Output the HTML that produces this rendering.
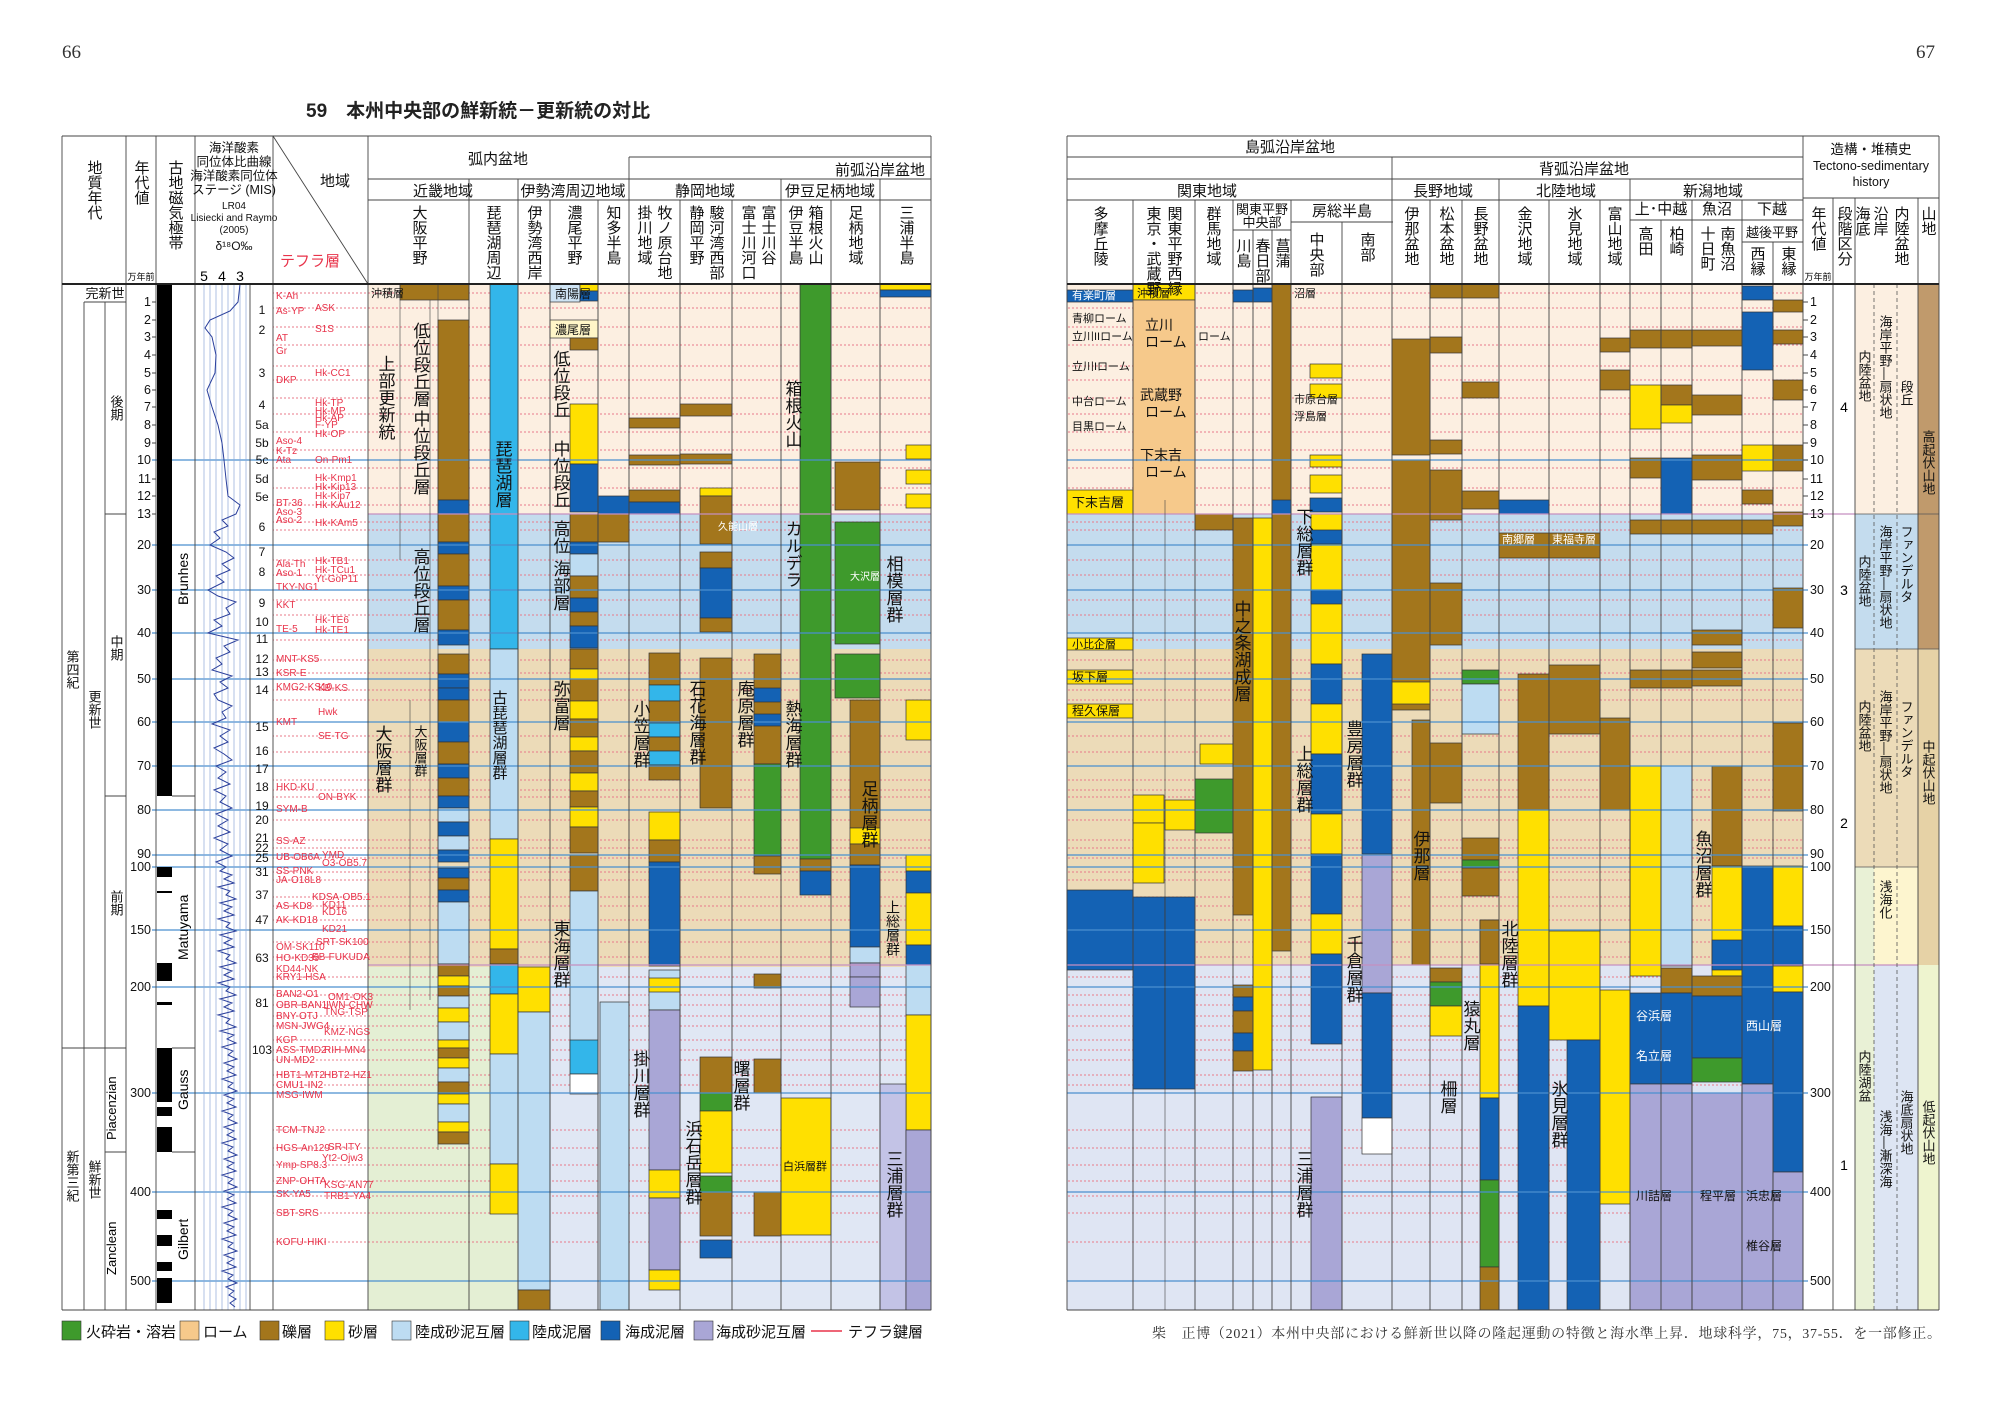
<!DOCTYPE html>
<html><head><meta charset="utf-8">
<style>
html,body{margin:0;padding:0;background:#fff;}
svg{display:block;font-family:"Liberation Sans","Noto Sans CJK JP",sans-serif;}
.v{writing-mode:vertical-rl;}
.G{fill:#a3761c}.S{fill:#ffe000}.B{fill:#1462b4}.C{fill:#33b6ea}.L{fill:#bddcf2}.P{fill:#a9a6d6}.V{fill:#3e9a2c}.R{fill:#f6c98b}
.blk rect{stroke:#333;stroke-width:.7}
.h{font-size:15px;fill:#111}
.t{font-size:10px;fill:#e8334a}
.m{font-size:13px;fill:#111}
.yl{font-size:12.5px;fill:#111}
.big{font-size:17px;fill:#111}
</style></head><body>
<svg width="2000" height="1417" viewBox="0 0 2000 1417" xmlns="http://www.w3.org/2000/svg">
<defs>
<clipPath id="dc"><rect x="273" y="284" width="658" height="1026"/><rect x="1067" y="284" width="736" height="1026"/></clipPath>
</defs>
<text x="62" y="58" font-family="Liberation Serif" font-size="19" fill="#333">66</text>
<text x="1916" y="58" font-family="Liberation Serif" font-size="19" fill="#333">67</text>
<text x="306" y="117" font-size="19" font-weight="bold" fill="#222">59　本州中央部の鮮新統－更新統の対比</text>

<rect x="368" y="284" width="563" height="230" fill="#fcefe1"/>
<rect x="368" y="514" width="563" height="135" fill="#c4dcee"/>
<rect x="368" y="649" width="563" height="318" fill="#ecdbb8"/>
<rect x="368" y="967" width="563" height="343" fill="#e0e7f4"/>
<rect x="368" y="967" width="182" height="343" fill="#e4efd4"/>
<rect x="1067" y="284" width="736" height="230" fill="#fcefe1"/>
<rect x="1067" y="514" width="736" height="135" fill="#c4dcee"/>
<rect x="1067" y="649" width="736" height="316" fill="#ecdbb8"/>
<rect x="1067" y="965" width="736" height="345" fill="#dfe5f3"/>
<rect x="1855" y="284" width="63" height="230" fill="#fcefe1"/>
<rect x="1855" y="514" width="63" height="135" fill="#c4dcee"/>
<rect x="1855" y="649" width="63" height="218" fill="#ecdbb8"/>
<rect x="1855" y="867" width="19" height="98" fill="#e9f1d6"/>
<rect x="1874" y="867" width="44" height="98" fill="#fdf5cf"/>
<rect x="1855" y="965" width="19" height="345" fill="#e9f1d6"/>
<rect x="1874" y="965" width="44" height="345" fill="#dde5f3"/>
<rect x="1918" y="284" width="21" height="365" fill="#c09a6c"/>
<rect x="1918" y="649" width="21" height="316" fill="#e6d2a6"/>
<rect x="1918" y="965" width="21" height="345" fill="#eef4cf"/>

<g clip-path="url(#dc)" stroke="#e87a8a" stroke-width="1" stroke-dasharray="2 2">
<path d="M0 293H2000M0 308H2000M0 327H2000M0 345H2000M0 366H2000M0 380H2000M0 398H2000M0 414H2000M0 432H2000M0 450H2000M0 468H2000M0 488H2000M0 505H2000M0 522H2000M0 530H2000M0 560H2000M0 575H2000M0 600H2000M0 615H2000M0 640H2000M0 660H2000M0 673H2000M0 690H2000M0 700H2000M0 736H2000M0 752H2000M0 780H2000M0 790H2000M0 797H2000M0 820H2000M0 840H2000M0 848H2000M0 858H2000M0 872H2000M0 880H2000M0 897H2000M0 906H2000M0 920H2000M0 942H2000M0 957H2000M0 977H2000M0 995H2000M0 1005H2000M0 1016H2000M0 1026H2000M0 1040H2000M0 1050H2000M0 1060H2000M0 1075H2000M0 1085H2000M0 1130H2000M0 1148H2000M0 1165H2000M0 1181H2000M0 1196H2000M0 1213H2000M0 1242H2000"/>
</g>

<g class="blk">
<rect class="G" x="400" y="284" width="69" height="16"/>
<rect class="G" x="438" y="320" width="31" height="180"/>
<rect class="B" x="438" y="500" width="31" height="14"/>
<rect class="G" x="438" y="514" width="31" height="28"/>
<rect class="B" x="438" y="542" width="31" height="12"/>
<rect class="G" x="438" y="554" width="31" height="32"/>
<rect class="B" x="438" y="586" width="31" height="14"/>
<rect class="G" x="438" y="600" width="31" height="30"/>
<rect class="B" x="438" y="630" width="31" height="15"/>
<rect class="G" x="438" y="654" width="31" height="20"/>
<rect class="B" x="438" y="674" width="31" height="14"/>
<rect class="B" x="438" y="688" width="31" height="12"/>
<rect class="G" x="438" y="700" width="31" height="22"/>
<rect class="B" x="438" y="722" width="31" height="20"/>
<rect class="G" x="438" y="742" width="31" height="22"/>
<rect class="B" x="438" y="764" width="31" height="14"/>
<rect class="G" x="438" y="778" width="31" height="18"/>
<rect class="B" x="438" y="796" width="31" height="12"/>
<rect class="L" x="438" y="808" width="31" height="14"/>
<rect class="B" x="438" y="822" width="31" height="14"/>
<rect class="L" x="438" y="836" width="31" height="14"/>
<rect class="B" x="438" y="850" width="31" height="12"/>
<rect class="B" x="438" y="868" width="31" height="10"/>
<rect class="G" x="438" y="878" width="31" height="12"/>
<rect class="B" x="438" y="890" width="31" height="12"/>
<rect class="L" x="438" y="902" width="31" height="62"/>
<rect class="G" x="438" y="964" width="31" height="12"/>
<rect class="S" x="438" y="976" width="31" height="10"/>
<rect class="G" x="438" y="986" width="31" height="10"/>
<rect class="L" x="438" y="996" width="31" height="12"/>
<rect class="S" x="438" y="1008" width="31" height="14"/>
<rect class="L" x="438" y="1022" width="31" height="18"/>
<rect class="S" x="438" y="1040" width="31" height="8"/>
<rect class="G" x="438" y="1048" width="31" height="10"/>
<rect class="S" x="438" y="1058" width="31" height="10"/>
<rect class="L" x="438" y="1068" width="31" height="14"/>
<rect class="G" x="438" y="1082" width="31" height="12"/>
<rect class="S" x="438" y="1094" width="31" height="10"/>
<rect class="L" x="438" y="1104" width="31" height="18"/>
<rect class="S" x="438" y="1122" width="31" height="10"/>
<rect class="G" x="438" y="1132" width="31" height="12"/>
<rect class="C" x="490" y="284" width="28" height="365"/>
<rect class="L" x="490" y="649" width="28" height="190"/>
<rect class="S" x="490" y="839" width="28" height="110"/>
<rect class="G" x="490" y="949" width="28" height="15"/>
<rect class="C" x="490" y="964" width="28" height="30"/>
<rect class="S" x="490" y="994" width="28" height="60"/>
<rect class="L" x="490" y="1054" width="28" height="110"/>
<rect class="S" x="490" y="1164" width="28" height="50"/>
<rect class="S" x="518" y="967" width="32" height="45"/>
<rect class="L" x="518" y="1012" width="32" height="278"/>
<rect class="G" x="518" y="1290" width="32" height="20"/>
<rect fill="#cfe4f4" x="550" y="284" width="30" height="18"/>
<rect class="S" x="580" y="284" width="18" height="7"/>
<rect class="B" x="580" y="291" width="18" height="10"/>
<rect fill="#fff6c8" x="550" y="320" width="48" height="18"/>
<rect class="G" x="570" y="338" width="28" height="12"/>
<rect class="S" x="570" y="404" width="28" height="60"/>
<rect class="B" x="570" y="464" width="28" height="48"/>
<rect class="G" x="570" y="514" width="28" height="28"/>
<rect class="B" x="570" y="542" width="28" height="12"/>
<rect class="L" x="570" y="554" width="28" height="22"/>
<rect class="G" x="570" y="576" width="28" height="22"/>
<rect class="B" x="570" y="598" width="28" height="14"/>
<rect class="G" x="570" y="612" width="28" height="14"/>
<rect class="B" x="570" y="626" width="28" height="22"/>
<rect class="G" x="570" y="649" width="28" height="20"/>
<rect class="S" x="570" y="669" width="28" height="10"/>
<rect class="G" x="570" y="679" width="28" height="22"/>
<rect class="S" x="570" y="701" width="28" height="18"/>
<rect class="G" x="570" y="719" width="28" height="18"/>
<rect class="S" x="570" y="737" width="28" height="14"/>
<rect class="G" x="570" y="751" width="28" height="22"/>
<rect class="S" x="570" y="773" width="28" height="18"/>
<rect class="G" x="570" y="791" width="28" height="16"/>
<rect class="S" x="570" y="807" width="28" height="20"/>
<rect class="G" x="570" y="827" width="28" height="26"/>
<rect class="G" x="570" y="855" width="28" height="36"/>
<rect class="L" x="570" y="891" width="28" height="160"/>
<rect class="C" x="570" y="1040" width="28" height="34"/>
<rect fill="#fff" x="570" y="1074" width="28" height="20"/>
<rect class="B" x="598" y="496" width="31" height="18"/>
<rect class="G" x="598" y="514" width="31" height="28"/>
<rect class="L" x="600" y="1002" width="29" height="308"/>
<rect class="G" x="629" y="418" width="51" height="10"/>
<rect class="G" x="629" y="455" width="51" height="10"/>
<rect class="G" x="629" y="490" width="51" height="12"/>
<rect class="B" x="629" y="502" width="51" height="12"/>
<rect class="G" x="649" y="653" width="31" height="32"/>
<rect class="C" x="649" y="685" width="31" height="16"/>
<rect class="G" x="649" y="701" width="31" height="22"/>
<rect class="C" x="649" y="723" width="31" height="14"/>
<rect class="G" x="649" y="737" width="31" height="14"/>
<rect class="C" x="649" y="751" width="31" height="14"/>
<rect class="G" x="649" y="765" width="31" height="15"/>
<rect class="S" x="649" y="812" width="31" height="28"/>
<rect class="G" x="649" y="840" width="31" height="22"/>
<rect class="B" x="649" y="862" width="31" height="104"/>
<rect class="L" x="649" y="970" width="31" height="40"/>
<rect class="S" x="649" y="978" width="31" height="14"/>
<rect class="P" x="649" y="1010" width="31" height="160"/>
<rect class="S" x="649" y="1170" width="31" height="28"/>
<rect class="P" x="649" y="1198" width="31" height="72"/>
<rect class="S" x="649" y="1270" width="31" height="20"/>
<rect class="G" x="680" y="404" width="52" height="12"/>
<rect class="G" x="680" y="454" width="52" height="10"/>
<rect class="S" x="700" y="488" width="32" height="8"/>
<rect class="G" x="700" y="496" width="32" height="18"/>
<rect class="G" x="700" y="514" width="32" height="30"/>
<rect class="G" x="700" y="552" width="32" height="16"/>
<rect class="B" x="700" y="568" width="32" height="50"/>
<rect class="G" x="700" y="618" width="32" height="14"/>
<rect class="G" x="700" y="658" width="32" height="150"/>
<rect class="G" x="700" y="1057" width="32" height="36"/>
<rect class="V" x="700" y="1093" width="32" height="18"/>
<rect class="S" x="700" y="1111" width="32" height="62"/>
<rect class="V" x="700" y="1176" width="32" height="16"/>
<rect class="G" x="700" y="1192" width="32" height="44"/>
<rect class="B" x="700" y="1240" width="32" height="18"/>
<rect class="G" x="754" y="654" width="27" height="110"/>
<rect class="B" x="754" y="688" width="27" height="14"/>
<rect class="B" x="754" y="714" width="27" height="12"/>
<rect class="V" x="754" y="764" width="27" height="92"/>
<rect class="G" x="754" y="856" width="27" height="18"/>
<rect class="G" x="754" y="1059" width="27" height="34"/>
<rect class="G" x="754" y="1192" width="27" height="44"/>
<rect class="S" x="781" y="1098" width="50" height="137"/>
<rect class="G" x="754" y="974" width="27" height="14"/>
<rect class="V" x="800" y="284" width="31" height="575"/>
<rect class="G" x="800" y="859" width="31" height="12"/>
<rect class="B" x="800" y="871" width="31" height="24"/>
<rect class="G" x="835" y="462" width="45" height="48"/>
<rect class="V" x="835" y="522" width="45" height="122"/>
<rect class="V" x="835" y="654" width="45" height="44"/>
<rect class="G" x="850" y="700" width="30" height="128"/>
<rect class="S" x="850" y="828" width="30" height="16"/>
<rect class="G" x="850" y="844" width="30" height="21"/>
<rect class="B" x="850" y="865" width="30" height="82"/>
<rect class="L" x="850" y="947" width="30" height="16"/>
<rect class="P" x="850" y="963" width="30" height="14"/>
<rect class="P" x="850" y="977" width="30" height="30"/>
<rect class="S" x="880" y="284" width="51" height="6"/>
<rect class="B" x="880" y="290" width="51" height="7"/>
<rect class="S" x="906" y="445" width="25" height="14"/>
<rect class="S" x="906" y="470" width="25" height="14"/>
<rect class="S" x="906" y="494" width="25" height="14"/>
<rect class="S" x="906" y="700" width="25" height="40"/>
<rect class="S" x="906" y="855" width="25" height="16"/>
<rect class="B" x="906" y="871" width="25" height="22"/>
<rect class="S" x="906" y="893" width="25" height="52"/>
<rect class="B" x="906" y="945" width="25" height="20"/>
<rect class="L" x="906" y="965" width="25" height="50"/>
<rect class="S" x="906" y="1015" width="25" height="115"/>
<rect fill="#c3c3e6" x="880" y="1084" width="26" height="226"/>
<rect class="P" x="906" y="1130" width="25" height="180"/>
</g>

<g class="blk">
<rect class="B" x="1067" y="290" width="66" height="12"/>
<rect class="S" x="1067" y="490" width="66" height="24"/>
<rect class="S" x="1067" y="638" width="66" height="12"/>
<rect class="S" x="1067" y="670" width="66" height="14"/>
<rect class="S" x="1067" y="704" width="66" height="14"/>
<rect class="B" x="1067" y="890" width="66" height="80"/>
<rect class="S" x="1133" y="284" width="62" height="16"/>
<rect class="R" x="1133" y="300" width="62" height="214"/>
<rect class="S" x="1133" y="795" width="31" height="28"/>
<rect class="S" x="1133" y="823" width="31" height="60"/>
<rect class="B" x="1133" y="897" width="32" height="192"/>
<rect class="S" x="1165" y="800" width="30" height="30"/>
<rect class="B" x="1165" y="897" width="30" height="192"/>
<rect class="S" x="1200" y="744" width="33" height="20"/>
<rect class="V" x="1195" y="779" width="38" height="54"/>
<rect class="G" x="1195" y="514" width="38" height="16"/>
<rect class="G" x="1233" y="518" width="20" height="397"/>
<rect class="G" x="1233" y="985" width="20" height="12"/>
<rect class="B" x="1233" y="997" width="20" height="14"/>
<rect class="G" x="1233" y="1011" width="20" height="22"/>
<rect class="B" x="1233" y="1033" width="20" height="18"/>
<rect class="G" x="1233" y="1051" width="20" height="20"/>
<rect class="S" x="1253" y="518" width="19" height="552"/>
<rect class="G" x="1272" y="284" width="19" height="667"/>
<rect class="B" x="1233" y="290" width="20" height="12"/>
<rect class="B" x="1253" y="288" width="19" height="14"/>
<rect class="B" x="1272" y="500" width="19" height="14"/>
<rect class="S" x="1310" y="364" width="32" height="14"/>
<rect class="S" x="1310" y="384" width="32" height="14"/>
<rect class="S" x="1310" y="455" width="32" height="12"/>
<rect class="S" x="1310" y="475" width="32" height="18"/>
<rect class="B" x="1310" y="498" width="32" height="14"/>
<rect class="S" x="1311" y="514" width="31" height="150"/>
<rect class="B" x="1311" y="530" width="31" height="14"/>
<rect class="B" x="1311" y="590" width="31" height="14"/>
<rect class="B" x="1311" y="664" width="31" height="40"/>
<rect class="S" x="1311" y="704" width="31" height="50"/>
<rect class="B" x="1311" y="754" width="31" height="60"/>
<rect class="S" x="1311" y="814" width="31" height="40"/>
<rect class="B" x="1311" y="854" width="31" height="60"/>
<rect class="S" x="1311" y="914" width="31" height="40"/>
<rect class="B" x="1311" y="954" width="31" height="90"/>
<rect class="P" x="1311" y="1097" width="31" height="213"/>
<rect class="B" x="1362" y="654" width="30" height="200"/>
<rect class="P" x="1362" y="855" width="30" height="138"/>
<rect class="B" x="1362" y="993" width="30" height="125"/>
<rect fill="#fff" x="1362" y="1118" width="30" height="36"/>
<rect class="G" x="1392" y="339" width="38" height="116"/>
<rect class="G" x="1392" y="460" width="38" height="250"/>
<rect class="S" x="1392" y="682" width="38" height="22"/>
<rect class="G" x="1412" y="720" width="18" height="245"/>
<rect class="G" x="1430" y="284" width="69" height="14"/>
<rect class="G" x="1430" y="337" width="32" height="16"/>
<rect class="G" x="1430" y="440" width="32" height="14"/>
<rect class="G" x="1430" y="470" width="32" height="50"/>
<rect class="G" x="1430" y="583" width="32" height="62"/>
<rect class="G" x="1430" y="743" width="32" height="60"/>
<rect class="G" x="1430" y="968" width="32" height="14"/>
<rect class="V" x="1430" y="982" width="32" height="24"/>
<rect class="S" x="1430" y="1006" width="32" height="30"/>
<rect class="G" x="1462" y="382" width="37" height="16"/>
<rect class="G" x="1462" y="491" width="37" height="18"/>
<rect class="V" x="1462" y="670" width="37" height="14"/>
<rect class="L" x="1462" y="684" width="37" height="50"/>
<rect class="G" x="1462" y="838" width="37" height="22"/>
<rect class="V" x="1462" y="860" width="37" height="8"/>
<rect class="G" x="1462" y="868" width="37" height="28"/>
<rect class="S" x="1480" y="920" width="19" height="178"/>
<rect class="G" x="1480" y="920" width="19" height="44"/>
<rect class="B" x="1480" y="1098" width="19" height="82"/>
<rect class="V" x="1480" y="1180" width="19" height="87"/>
<rect class="G" x="1480" y="1267" width="19" height="43"/>
<rect class="B" x="1499" y="500" width="50" height="14"/>
<rect class="G" x="1499" y="533" width="50" height="25"/>
<rect class="G" x="1518" y="674" width="31" height="136"/>
<rect class="S" x="1518" y="810" width="31" height="196"/>
<rect class="B" x="1518" y="1006" width="31" height="304"/>
<rect class="G" x="1549" y="533" width="51" height="25"/>
<rect class="G" x="1549" y="665" width="51" height="69"/>
<rect class="S" x="1549" y="931" width="51" height="109"/>
<rect class="B" x="1567" y="1040" width="33" height="270"/>
<rect class="G" x="1600" y="338" width="30" height="14"/>
<rect class="G" x="1600" y="370" width="30" height="20"/>
<rect class="G" x="1600" y="718" width="30" height="92"/>
<rect class="S" x="1600" y="990" width="30" height="214"/>
<rect class="G" x="1630" y="330" width="31" height="18"/>
<rect class="G" x="1661" y="330" width="31" height="18"/>
<rect class="S" x="1630" y="385" width="31" height="44"/>
<rect class="G" x="1661" y="385" width="31" height="20"/>
<rect class="S" x="1661" y="405" width="31" height="18"/>
<rect class="G" x="1630" y="458" width="31" height="20"/>
<rect class="B" x="1661" y="458" width="31" height="56"/>
<rect class="G" x="1630" y="520" width="62" height="14"/>
<rect class="G" x="1630" y="670" width="62" height="18"/>
<rect class="S" x="1630" y="766" width="31" height="210"/>
<rect class="L" x="1661" y="766" width="31" height="200"/>
<rect class="G" x="1661" y="968" width="31" height="25"/>
<rect class="B" x="1630" y="993" width="62" height="91"/>
<rect class="P" x="1630" y="1084" width="62" height="226"/>
<rect class="G" x="1692" y="330" width="50" height="16"/>
<rect class="G" x="1692" y="395" width="50" height="20"/>
<rect class="G" x="1692" y="455" width="50" height="25"/>
<rect class="G" x="1692" y="520" width="50" height="14"/>
<rect class="G" x="1692" y="630" width="50" height="15"/>
<rect class="G" x="1692" y="652" width="50" height="16"/>
<rect class="G" x="1692" y="670" width="50" height="16"/>
<rect class="G" x="1712" y="766" width="30" height="100"/>
<rect class="S" x="1712" y="866" width="30" height="110"/>
<rect class="B" x="1712" y="940" width="30" height="30"/>
<rect class="G" x="1692" y="976" width="50" height="20"/>
<rect class="B" x="1692" y="996" width="50" height="62"/>
<rect class="V" x="1692" y="1058" width="50" height="24"/>
<rect class="P" x="1692" y="1093" width="50" height="217"/>
<rect class="B" x="1742" y="286" width="31" height="14"/>
<rect class="B" x="1742" y="312" width="31" height="58"/>
<rect class="G" x="1773" y="300" width="30" height="12"/>
<rect class="G" x="1773" y="330" width="30" height="14"/>
<rect class="G" x="1773" y="380" width="30" height="20"/>
<rect class="S" x="1742" y="445" width="31" height="26"/>
<rect class="G" x="1773" y="445" width="30" height="26"/>
<rect class="G" x="1742" y="490" width="31" height="14"/>
<rect class="G" x="1773" y="512" width="30" height="14"/>
<rect class="G" x="1742" y="520" width="31" height="14"/>
<rect class="G" x="1773" y="588" width="30" height="40"/>
<rect class="G" x="1773" y="723" width="30" height="88"/>
<rect class="B" x="1742" y="866" width="31" height="218"/>
<rect class="S" x="1773" y="866" width="30" height="60"/>
<rect class="B" x="1773" y="926" width="30" height="40"/>
<rect class="S" x="1773" y="966" width="30" height="26"/>
<rect class="B" x="1773" y="992" width="30" height="180"/>
<rect class="P" x="1742" y="1084" width="31" height="226"/>
<rect class="P" x="1773" y="1172" width="30" height="138"/>
</g>

<g stroke="#4a8fcf" stroke-width="1.3">
<path d="M152 460H931M152 545H931M152 590H931M152 633H931M152 679H931M152 722H931M152 766H931M152 810H931M152 855H931M152 867H931M152 930H931M152 987H931M152 1093H931M152 1192H931M152 1281H931"/>
<path d="M1067 460H1808M1067 545H1808M1067 590H1808M1067 633H1808M1067 679H1808M1067 722H1808M1067 766H1808M1067 810H1808M1067 855H1808M1067 867H1808M1067 930H1808M1067 987H1808M1067 1093H1808M1067 1192H1808M1067 1281H1808"/>
</g>
<path d="M368 514H931M1067 514H1855M368 965H931M1067 965H1918" stroke="#c58fc0" stroke-width="1.2"/>
<path d="M1855 514H1939M1855 649H1939M1855 867H1918" stroke="#555" stroke-width="0.8"/>

<rect x="157" y="284" width="15" height="512" fill="#000"/>
<g fill="#000">
<rect x="157" y="867" width="15" height="10"/><rect x="157" y="891" width="15" height="2"/>
<rect x="157" y="963" width="15" height="18"/><rect x="157" y="1002" width="15" height="3"/>
<rect x="157" y="1048" width="15" height="54"/><rect x="157" y="1107" width="15" height="9"/>
<rect x="157" y="1127" width="15" height="25"/><rect x="157" y="1210" width="15" height="9"/>
<rect x="157" y="1235" width="15" height="11"/><rect x="157" y="1262" width="15" height="9"/>
<rect x="157" y="1278" width="15" height="25"/>
</g>
<g stroke="#8ea8d8" stroke-width="0.7">
<path d="M204 284V1310M210 284V1310M216 284V1310M222 284V1310M228 284V1310M234 284V1310M240 284V1310M246 284V1310"/>
</g>
<polyline fill="none" stroke="#2a3f9c" stroke-width="1" points="240,284 238,302 230,311 210,320 205,328 212,337 216,355 215,373 207,390 212,407 218,425 222,443 224,460 226,479 228,496 240,505 236,514 222,520 228,526 214,532 220,538 210,545 226,552 234,558 222,564 230,570 216,576 224,582 208,590 218,596 236,602 226,608 230,614 214,620 222,626 208,633 238,640 224,646 230,652 216,658 222,664 212,670 232,676 220,682 228,688 214,694 218,700 232,706 222,712 226,718 212,724 230,730 220,736 228,742 214,748 224,754 232,760 216,766 226,772 218,778 230,784 214,790 226,796 220,802 232,808 216,814 228,820 218,826 230,832 214,838 228,844 220,850 232,856 216,862 226,867 220,871 232,875 224,879 234,883 218,887 230,891 226,895 236,899 220,903 232,907 224,911 234,915 218,919 230,923 226,927 236,931 220,935 232,939 224,943 234,947 218,951 230,955 226,959 236,963 220,967 232,971 224,975 234,979 218,983 230,987 226,991 236,995 220,999 232,1003 224,1007 234,1011 218,1015 230,1019 226,1023 236,1027 220,1031 234,1035 227,1039 236,1043 222,1047 233,1051 228,1055 237,1059 224,1063 234,1067 227,1071 236,1075 222,1079 233,1083 228,1087 237,1091 224,1095 234,1099 227,1103 236,1107 222,1111 233,1115 228,1119 237,1123 224,1127 234,1131 227,1135 236,1139 222,1143 233,1147 228,1151 237,1155 224,1159 234,1163 227,1167 236,1171 222,1175 233,1179 228,1183 237,1187 224,1191 234,1195 227,1199 236,1203 222,1207 233,1211 228,1215 237,1219 224,1223 234,1227 227,1231 236,1235 222,1239 233,1243 228,1247 237,1251 224,1255 234,1259 227,1263 236,1267 222,1271 233,1275 228,1279 237,1283 226,1287 234,1291 229,1295 236,1299 230,1303 235,1307"/>

<g stroke="#444" stroke-width="0.9" fill="none">
<path d="M62 136H931M62 284H931M62 1310H931"/>
<path d="M1067 136H1939M1067 284H1939M1067 1310H1939"/>
<path d="M629 157H931M368 179H931M368 200H931"/>
<path d="M1067 157H1803M1067 179H1803M1067 200H1803M1803 198H1939"/>
<path d="M1233 230H1291M1291 222H1393M1630 220H1803M1742 242H1803"/>
<path d="M62 136V1310M126 136V1310M156 136V1310M195 136V1310M273 136V1310M368 136V1310M629 157V1310M931 136V1310"/>
<path d="M469 179V1310M518 179V1310M550 200V1310M598 200V1310M680 200V1310M732 200V1310M781 179V1310M831 200V1310M880 179V1310"/>
<path d="M84 302V1310M105 302V1310M84 302H126M105 514H126M105 796H126M62 1048H126M105 1152H126M172 796H195M172 1048H195M172 1152H195M250 284V1310"/>
<path d="M273 136L368 284"/>
<path d="M1067 136V1310M1133 200V1310M1195 200V1310M1233 200V1310M1253 230V1310M1272 230V1310M1291 200V1310M1342 222V1310M1392 157V1310M1430 200V1310M1462 200V1310M1499 179V1310M1549 200V1310M1600 200V1310M1630 179V1310M1661 220V1310M1692 200V1310M1742 200V1310M1773 242V1310M1803 136V1310M1833 198V1310M1855 198V1310M1918 198V1310M1939 136V1310"/>
<path d="M400 284V560M430 300V1000M410 700V1010M438 284V1150M1165 500V1310" stroke-width="0.6"/>
<path d="M152 302h4M152 320h4M152 337h4M152 355h4M152 373h4M152 390h4M152 407h4M152 425h4M152 443h4M152 479h4M152 496h4M152 514h4"/>
</g>
<path d="M1874 284V1310M1897 284V1310" stroke="#555" stroke-width="0.8" stroke-dasharray="4 3"/>
<path d="M62 284H931M1067 284H1939" stroke="#222" stroke-width="2"/>

<text class="h v" x="94" y="160">地質年代</text>
<text class="h v" x="141" y="160">年代値</text>
<text class="h v" x="175" y="160">古地磁気極帯</text>
<text x="141" y="280" font-size="9" text-anchor="middle">万年前</text>
<g font-size="12.5" text-anchor="middle" fill="#111">
<text x="234" y="152">海洋酸素</text><text x="234" y="166">同位体比曲線</text>
<text x="234" y="180">海洋酸素同位体</text><text x="234" y="194">ステージ (MIS)</text>
<text x="234" y="209" font-size="10">LR04</text><text x="234" y="221" font-size="10">Lisiecki and Raymo</text>
<text x="234" y="233" font-size="10">(2005)</text><text x="234" y="250" font-size="12">δ¹⁸O‰</text>
</g>
<text x="204" y="281" font-size="14" text-anchor="middle">5</text>
<text x="222" y="281" font-size="14" text-anchor="middle">4</text>
<text x="240" y="281" font-size="14" text-anchor="middle">3</text>
<text x="335" y="186" class="h" text-anchor="middle">地域</text>
<text x="310" y="266" font-size="15" fill="#e8334a" text-anchor="middle">テフラ層</text>
<g class="h" text-anchor="middle">
<text x="498" y="164">弧内盆地</text>
<text x="880" y="175">前弧沿岸盆地</text>
<text x="443" y="196">近畿地域</text>
<text x="573" y="196">伊勢湾周辺地域</text>
<text x="705" y="196">静岡地域</text>
<text x="830" y="196">伊豆足柄地域</text>
</g>
<g class="h v">
<text x="419" y="205">大阪平野</text><text x="493" y="205">琵琶湖周辺</text>
<text x="534" y="205">伊勢湾西岸</text><text x="574" y="205">濃尾平野</text>
<text x="613" y="205">知多半島</text><text x="644" y="205">掛川地域</text>
<text x="664" y="205">牧ノ原台地</text><text x="696" y="205">静岡平野</text>
<text x="716" y="205">駿河湾西部</text><text x="748" y="205">富士川河口</text>
<text x="768" y="205">富士川谷</text><text x="795" y="205">伊豆半島</text>
<text x="815" y="205">箱根火山</text><text x="855" y="205">足柄地域</text>
<text x="906" y="205">三浦半島</text>
</g>
<text x="105" y="298" class="m" text-anchor="middle">完新世</text>
<text class="m v" x="116" y="395">後期</text>
<text class="m v" x="116" y="635">中期</text>
<text class="m v" x="116" y="890">前期</text>
<text class="m v" x="94" y="690">更新世</text>
<text class="m v" x="72" y="650">第四紀</text>
<text class="m v" x="72" y="1150">新第三紀</text>
<text class="m v" x="94" y="1160">鮮新世</text>
<text x="116" y="1140" font-size="13" transform="rotate(-90 116 1140)">Piacenzian</text>
<text x="116" y="1275" font-size="13" transform="rotate(-90 116 1275)">Zanclean</text>
<text x="188" y="605" font-size="14" transform="rotate(-90 188 605)">Brunhes</text>
<text x="188" y="960" font-size="14" transform="rotate(-90 188 960)">Matuyama</text>
<text x="188" y="1110" font-size="14" transform="rotate(-90 188 1110)">Gauss</text>
<text x="188" y="1260" font-size="14" transform="rotate(-90 188 1260)">Gilbert</text>
<g class="yl" text-anchor="end">
<text x="151" y="306">1</text><text x="151" y="324">2</text><text x="151" y="341">3</text><text x="151" y="359">4</text><text x="151" y="377">5</text><text x="151" y="394">6</text><text x="151" y="411">7</text><text x="151" y="429">8</text><text x="151" y="447">9</text><text x="151" y="464">10</text><text x="151" y="483">11</text><text x="151" y="500">12</text><text x="151" y="518">13</text><text x="151" y="549">20</text><text x="151" y="594">30</text><text x="151" y="637">40</text><text x="151" y="683">50</text><text x="151" y="726">60</text><text x="151" y="770">70</text><text x="151" y="814">80</text><text x="151" y="858">90</text><text x="151" y="871">100</text><text x="151" y="934">150</text><text x="151" y="991">200</text><text x="151" y="1097">300</text><text x="151" y="1196">400</text><text x="151" y="1285">500</text>
</g>
<g font-size="12" text-anchor="middle" fill="#111">
<text x="262" y="314">1</text><text x="262" y="334">2</text><text x="262" y="377">3</text><text x="262" y="409">4</text><text x="262" y="429">5a</text><text x="262" y="447">5b</text><text x="262" y="464">5c</text><text x="262" y="483">5d</text><text x="262" y="501">5e</text><text x="262" y="531">6</text><text x="262" y="556">7</text><text x="262" y="576">8</text><text x="262" y="607">9</text><text x="262" y="626">10</text><text x="262" y="643">11</text><text x="262" y="663">12</text><text x="262" y="676">13</text><text x="262" y="694">14</text><text x="262" y="731">15</text><text x="262" y="755">16</text><text x="262" y="773">17</text><text x="262" y="791">18</text><text x="262" y="810">19</text><text x="262" y="824">20</text><text x="262" y="842">21</text><text x="262" y="852">22</text><text x="262" y="862">25</text><text x="262" y="876">31</text><text x="262" y="899">37</text><text x="262" y="924">47</text><text x="262" y="962">63</text><text x="262" y="1007">81</text><text x="262" y="1054">103</text>
</g>
<g class="t">
<text x="276" y="299">K-Ah</text><text x="276" y="314">As-YP</text><text x="276" y="341">AT</text><text x="276" y="354">Gr</text><text x="276" y="383">DKP</text><text x="276" y="444">Aso-4</text><text x="276" y="454">K-Tz</text><text x="276" y="463">Ata</text><text x="276" y="506">BT-36</text><text x="276" y="515">Aso-3</text><text x="276" y="523">Aso-2</text><text x="276" y="567">Ala-Th</text><text x="276" y="576">Aso-1</text><text x="276" y="590">TKY-NG1</text><text x="276" y="608">KKT</text><text x="276" y="632">TE-5</text><text x="276" y="662">MNT-KS5</text><text x="276" y="676">KSR-E</text><text x="276" y="690">KMG2-KS10</text><text x="276" y="725">KMT</text><text x="276" y="790">HKD-KU</text><text x="276" y="812">SYM-B</text><text x="276" y="844">SS-AZ</text><text x="276" y="860">UB-OB6A</text><text x="276" y="874">SS-PNK</text><text x="276" y="883">JA-O18L8</text><text x="276" y="909">AS-KD8</text><text x="276" y="923">AK-KD18</text><text x="276" y="950">OM-SK110</text><text x="276" y="961">HO-KD39</text><text x="276" y="972">KD44-NK</text><text x="276" y="980">KRY1-HSA</text><text x="276" y="997">BAN2-O1</text><text x="276" y="1008">OBR-BAN1</text><text x="276" y="1019">BNY-OTJ</text><text x="276" y="1029">MSN-JWG4</text><text x="276" y="1043">KGP</text><text x="276" y="1053">ASS-TMD2</text><text x="276" y="1063">UN-MD2</text><text x="276" y="1078">HBT1-MT2</text><text x="276" y="1088">CMU1-IN2</text><text x="276" y="1098">MSG-IWM</text><text x="276" y="1133">TCM-TNJ2</text><text x="276" y="1151">HGS-An129</text><text x="276" y="1168">Ymp-SP8.3</text><text x="276" y="1184">ZNP-OHTA</text><text x="276" y="1197">SK-YA5</text><text x="276" y="1216">SBT-SRS</text><text x="276" y="1245">KOFU-HIKI</text>
<text x="315" y="311">ASK</text><text x="315" y="332">S1S</text><text x="315" y="376">Hk-CC1</text><text x="315" y="406">Hk-TP</text><text x="315" y="414">Hk-MP</text><text x="315" y="421">Hk-AP</text><text x="315" y="428">F-YP</text><text x="315" y="437">Hk-OP</text><text x="315" y="463">On-Pm1</text><text x="315" y="481">Hk-Kmp1</text><text x="315" y="490">Hk-Kip13</text><text x="315" y="499">Hk-Kip7</text><text x="315" y="508">Hk-KAu12</text><text x="315" y="526">Hk-KAm5</text><text x="315" y="564">Hk-TB1</text><text x="315" y="573">Hk-TCu1</text><text x="315" y="582">Yt-GoP11</text><text x="315" y="623">Hk-TE6</text><text x="315" y="633">Hk-TE1</text><text x="318" y="691">KB-KS</text><text x="318" y="715">Hwk</text><text x="318" y="739">SE-TG</text><text x="318" y="800">ON-BYK</text><text x="322" y="858">YMD</text><text x="322" y="866">O3-OB5.7</text><text x="312" y="900">KDSA-OB5.1</text><text x="322" y="908">KD11</text><text x="322" y="915">KD16</text><text x="322" y="932">KD21</text><text x="316" y="945">SRT-SK100</text><text x="312" y="960">EB-FUKUDA</text><text x="328" y="1000">OM1-OK3</text><text x="326" y="1008">IWN-CHW</text><text x="324" y="1015">TNG-TSP</text><text x="324" y="1035">KMZ-NGS</text><text x="324" y="1053">RIH-MN4</text><text x="324" y="1078">HBT2-HZ1</text><text x="328" y="1150">SR-ITY</text><text x="322" y="1161">Yt2-Ojw3</text><text x="324" y="1188">KSG-AN77</text><text x="324" y="1199">TRB1-YA4</text>
</g>
<g class="big v">
<text x="385" y="355">上部更新統</text>
<text x="420" y="322">低位段丘層</text>
<text x="420" y="410">中位段丘層</text>
<text x="420" y="548">高位段丘層</text>
<text x="502" y="440">琵琶湖層</text>
<text x="499" y="690" font-size="15">古琵琶湖層群</text>
<text x="560" y="350">低位段丘</text>
<text x="560" y="440">中位段丘</text>
<text x="560" y="520">高位</text>
<text x="560" y="560">海部層</text>
<text x="560" y="680">弥富層</text>
<text x="560" y="920">東海層群</text>
<text x="382" y="725">大阪層群</text>
<text x="420" y="725" font-size="13">大阪層群</text>
<text x="640" y="700">小笠層群</text>
<text x="640" y="1050">掛川層群</text>
<text x="692" y="1120">浜石岳層群</text>
<text x="696" y="680">石花海層群</text>
<text x="744" y="680">庵原層群</text>
<text x="792" y="380">箱根火山</text>
<text x="792" y="700">熱海層群</text>
<text x="792" y="520">カルデラ</text>
<text x="868" y="780">足柄層群</text>
<text x="893" y="555">相模層群</text>
<text x="893" y="900" font-size="14">上総層群</text>
<text x="893" y="1150">三浦層群</text>
<text x="740" y="1060">曙層群</text>
</g>
<g font-size="11" fill="#111">
<text x="371" y="297">沖積層</text>
<text x="555" y="298" font-size="12">南陽層</text>
<text x="555" y="334" font-size="12">濃尾層</text>
<text x="718" y="530" font-size="10" fill="#fff">久能山層</text>
<text x="850" y="580" font-size="10" fill="#fff">大沢層</text>
<text x="783" y="1170" font-size="11">白浜層群</text>
</g>

<g class="h" text-anchor="middle">
<text x="1290" y="152">島弧沿岸盆地</text>
<text x="1584" y="174">背弧沿岸盆地</text>
<text x="1207" y="196">関東地域</text>
<text x="1443" y="196">長野地域</text>
<text x="1566" y="196">北陸地域</text>
<text x="1713" y="196">新潟地域</text>
<text x="1262" y="214" font-size="13">関東平野</text>
<text x="1262" y="227" font-size="13">中央部</text>
<text x="1342" y="216">房総半島</text>
<text x="1661" y="214">上･中越</text>
<text x="1717" y="214">魚沼</text>
<text x="1772" y="214">下越</text>
<text x="1772" y="237" font-size="13">越後平野</text>
<text x="1871" y="154" font-size="13.5">造構・堆積史</text>
<text x="1871" y="170" font-size="12.5">Tectono-sedimentary</text>
<text x="1871" y="186" font-size="12.5">history</text>
</g>
<g class="h v">
<text x="1100" y="206">多摩丘陵</text><text x="1153" y="206">東京・武蔵野</text><text x="1174" y="206">関東平野西縁</text>
<text x="1213" y="206">群馬地域</text><text x="1243" y="238">川島</text><text x="1262" y="238">春日部</text><text x="1282" y="238">菖蒲</text>
<text x="1316" y="232">中央部</text><text x="1367" y="232">南部</text>
<text x="1411" y="206">伊那盆地</text><text x="1446" y="206">松本盆地</text><text x="1480" y="206">長野盆地</text>
<text x="1524" y="206">金沢地域</text><text x="1574" y="206">氷見地域</text><text x="1614" y="206">富山地域</text>
<text x="1645" y="226">高田</text><text x="1676" y="226">柏崎</text><text x="1707" y="226">十日町</text><text x="1727" y="226">南魚沼</text>
<text x="1757" y="246">西縁</text><text x="1788" y="246">東縁</text>
<text x="1818" y="206">年代値</text><text x="1844" y="206">段階区分</text><text x="1862" y="206">海底</text><text x="1880" y="206">沿岸</text><text x="1901" y="206">内陸盆地</text><text x="1928" y="206">山地</text>
</g>
<text x="1818" y="280" font-size="9" text-anchor="middle">万年前</text>
<g stroke="#444"><path d="M1803 302h5M1803 320h5M1803 337h5M1803 355h5M1803 373h5M1803 390h5M1803 407h5M1803 425h5M1803 443h5M1803 460h5M1803 479h5M1803 496h5M1803 514h5"/></g>
<g class="yl">
<text x="1810" y="306">1</text><text x="1810" y="324">2</text><text x="1810" y="341">3</text><text x="1810" y="359">4</text><text x="1810" y="377">5</text><text x="1810" y="394">6</text><text x="1810" y="411">7</text><text x="1810" y="429">8</text><text x="1810" y="447">9</text><text x="1810" y="464">10</text><text x="1810" y="483">11</text><text x="1810" y="500">12</text><text x="1810" y="518">13</text><text x="1810" y="549">20</text><text x="1810" y="594">30</text><text x="1810" y="637">40</text><text x="1810" y="683">50</text><text x="1810" y="726">60</text><text x="1810" y="770">70</text><text x="1810" y="814">80</text><text x="1810" y="858">90</text><text x="1810" y="871">100</text><text x="1810" y="934">150</text><text x="1810" y="991">200</text><text x="1810" y="1097">300</text><text x="1810" y="1196">400</text><text x="1810" y="1285">500</text>
</g>
<g font-size="14" text-anchor="middle"><text x="1844" y="412">4</text><text x="1844" y="595">3</text><text x="1844" y="828">2</text><text x="1844" y="1170">1</text></g>
<g class="m v">
<text x="1864" y="350">内陸盆地</text><text x="1885" y="315">海岸平野―扇状地</text><text x="1906" y="380">段丘</text>
<text x="1928" y="430">高起伏山地</text>
<text x="1864" y="555">内陸盆地</text><text x="1885" y="525">海岸平野―扇状地</text><text x="1906" y="525">ファンデルタ</text>
<text x="1864" y="700">内陸盆地</text><text x="1885" y="690">海岸平野―扇状地</text><text x="1906" y="700">ファンデルタ</text>
<text x="1928" y="740">中起伏山地</text>
<text x="1885" y="880">浅海化</text>
<text x="1864" y="1050">内陸湖盆</text><text x="1885" y="1110">浅海―漸深海</text><text x="1906" y="1090">海底扇状地</text>
<text x="1928" y="1100">低起伏山地</text>
</g>
<g font-size="11" fill="#111">
<text x="1072" y="299" fill="#fff">有楽町層</text>
<text x="1072" y="322">青柳ローム</text><text x="1072" y="340">立川IIローム</text><text x="1072" y="370">立川Iローム</text>
<text x="1072" y="405">中台ローム</text><text x="1072" y="430">目黒ローム</text>
<text x="1072" y="507" font-size="13">下末吉層</text>
<text x="1072" y="648">小比企層</text><text x="1072" y="681" font-size="12">坂下層</text><text x="1072" y="715" font-size="12">程久保層</text>
<text x="1137" y="297">沖積層</text>
<text x="1145" y="330" font-size="14">立川</text><text x="1145" y="347" font-size="14">ローム</text>
<text x="1140" y="400" font-size="14">武蔵野</text><text x="1145" y="417" font-size="14">ローム</text>
<text x="1140" y="460" font-size="14">下末吉</text><text x="1145" y="477" font-size="14">ローム</text>
<text x="1198" y="340">ローム</text>
<text x="1294" y="297">沼層</text>
<text x="1294" y="403">市原台層</text><text x="1294" y="420">浮島層</text>
<text x="1502" y="543" fill="#fff">南郷層</text><text x="1552" y="543" fill="#fff">東福寺層</text>
<text x="1636" y="1020" fill="#fff" font-size="12">谷浜層</text><text x="1636" y="1060" fill="#fff" font-size="12">名立層</text>
<text x="1636" y="1200" font-size="12">川詰層</text><text x="1700" y="1200" font-size="12">程平層</text><text x="1746" y="1200" font-size="12">浜忠層</text>
<text x="1746" y="1250" font-size="12">椎谷層</text>
<text x="1746" y="1030" fill="#fff" font-size="12">西山層</text>
</g>
<g class="big v">
<text x="1303" y="508">下総層群</text>
<text x="1303" y="745">上総層群</text>
<text x="1303" y="1150">三浦層群</text>
<text x="1241" y="600">中之条湖成層</text>
<text x="1353" y="720">豊房層群</text>
<text x="1353" y="935">千倉層群</text>
<text x="1420" y="830">伊那層</text>
<text x="1447" y="1080">柵層</text>
<text x="1470" y="1000">猿丸層</text>
<text x="1508" y="920">北陸層群</text>
<text x="1558" y="1080">氷見層群</text>
<text x="1702" y="830">魚沼層群</text>
</g>

<g font-size="15" fill="#111">
<rect x="62" y="1321" width="19" height="19" class="V" stroke="#333" stroke-width=".6"/><text x="86" y="1337">火砕岩・溶岩</text>
<rect x="180" y="1321" width="19" height="19" class="R" stroke="#333" stroke-width=".6"/><text x="203" y="1337">ローム</text>
<rect x="260" y="1321" width="19" height="19" class="G" stroke="#333" stroke-width=".6"/><text x="282" y="1337">礫層</text>
<rect x="325" y="1321" width="19" height="19" class="S" stroke="#333" stroke-width=".6"/><text x="348" y="1337">砂層</text>
<rect x="392" y="1321" width="19" height="19" class="L" stroke="#333" stroke-width=".6"/><text x="415" y="1337">陸成砂泥互層</text>
<rect x="510" y="1321" width="19" height="19" class="C" stroke="#333" stroke-width=".6"/><text x="532" y="1337">陸成泥層</text>
<rect x="601" y="1321" width="19" height="19" class="B" stroke="#333" stroke-width=".6"/><text x="625" y="1337">海成泥層</text>
<rect x="694" y="1321" width="19" height="19" class="P" stroke="#333" stroke-width=".6"/><text x="716" y="1337">海成砂泥互層</text>
<path d="M811 1331H842" stroke="#e8334a" stroke-width="1.5"/><text x="848" y="1337">テフラ鍵層</text>
</g>
<text x="1152" y="1338" font-family="Liberation Serif,'Noto Serif CJK SC',serif" font-size="14" fill="#333" textLength="789">柴　正博（2021）本州中央部における鮮新世以降の隆起運動の特徴と海水準上昇．地球科学，75，37-55．を一部修正。</text>
</svg>
</body></html>
